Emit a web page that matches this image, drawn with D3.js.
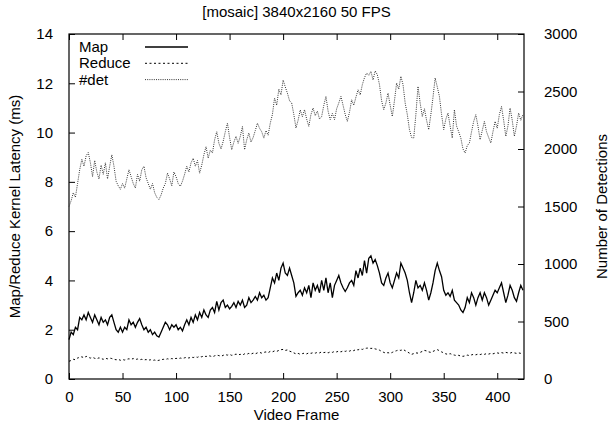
<!DOCTYPE html>
<html><head><meta charset="utf-8">
<script src="https://cdn.jsdelivr.net/npm/d3@7"></script>
<style>body{margin:0;background:#fff}svg{display:block}text{font-family:"Liberation Sans",Arial,sans-serif;fill:#000}</style>
</head><body><svg id="c" width="616" height="432"></svg>
<script>
const title = "[mosaic] 3840x2160 50 FPS";
const xLabel = "Video Frame";
const yLabel = "Map/Reduce Kernel Latency (ms)";
const y2Label = "Number of Detections";
const xTicks = [0,50,100,150,200,250,300,350,400];
const yTicks = [0,2,4,6,8,10,12,14];
const y2Ticks = [0,500,1000,1500,2000,2500,3000];
const seriesNames = ["Map","Reduce","#det"];
const frames = d3.range(0, 425, 2);
const mapMs = [
1.6,1.9,1.8,2.1,2.0,2.5,2.4,2.6,2.4,2.7,
2.5,2.3,2.6,2.4,2.2,2.5,2.3,2.4,2.2,2.5,
2.6,2.3,2.0,1.9,2.1,1.9,2.1,2.0,2.4,2.2,
2.3,2.1,2.3,2.45,2.2,2.0,2.1,1.9,2.0,1.8,
1.9,1.75,1.7,1.9,2.1,2.3,2.2,2.0,2.2,2.1,
2.2,2.0,2.1,1.95,2.2,2.4,2.2,2.5,2.3,2.6,
2.4,2.7,2.5,2.8,2.6,2.5,2.8,2.9,2.7,3.15,
2.8,3.1,3.2,2.9,3.0,2.85,2.95,3.1,2.9,3.15,
3.0,3.2,2.9,3.0,3.3,3.1,3.2,3.35,3.2,3.5,
3.3,3.4,3.2,3.3,3.7,4.1,3.9,4.3,4.0,4.5,
4.7,4.3,4.2,4.5,4.2,3.9,3.35,3.5,3.6,3.4,
3.7,3.5,3.8,3.3,3.9,3.6,3.8,3.5,4.0,3.6,
4.1,3.5,3.9,3.3,3.8,4.0,4.2,3.9,3.7,3.55,
3.7,3.9,4.0,3.8,4.4,4.1,4.5,4.2,4.8,4.3,
4.9,5.0,4.7,4.85,4.6,4.3,3.9,3.8,4.1,4.3,
3.9,3.7,4.0,4.3,4.1,4.7,4.5,4.3,4.0,3.5,
3.1,3.5,4.0,3.7,3.8,3.6,3.9,3.6,3.2,3.5,
3.9,4.4,4.7,4.4,4.15,3.6,3.4,3.5,3.35,3.6,
3.2,3.1,3.0,2.8,2.7,2.9,3.3,3.1,3.5,3.3,
3.0,3.3,3.5,3.2,3.5,3.3,3.0,3.2,3.4,3.6,
3.5,3.7,3.9,3.5,3.1,3.4,3.8,3.6,3.3,3.15,
3.5,3.8,3.6];
const reduceMs = [
0.72,0.75,0.8,0.78,0.85,0.88,0.9,0.86,0.92,0.88,
0.85,0.88,0.84,0.82,0.86,0.83,0.8,0.84,0.82,0.85,
0.83,0.8,0.78,0.8,0.76,0.79,0.77,0.8,0.82,0.8,
0.83,0.79,0.81,0.78,0.8,0.77,0.79,0.76,0.78,0.75,
0.77,0.74,0.76,0.78,0.8,0.79,0.82,0.8,0.83,0.81,
0.84,0.82,0.85,0.83,0.86,0.88,0.85,0.89,0.87,0.9,
0.88,0.92,0.9,0.94,0.91,0.95,0.93,0.9,0.94,0.97,
0.95,0.92,0.96,0.99,0.97,1.0,0.96,0.98,1.01,0.98,
1.0,0.97,1.02,1.0,1.04,1.01,1.05,1.02,1.06,1.08,
1.05,1.08,1.1,1.07,1.12,1.1,1.14,1.12,1.16,1.19,
1.2,1.16,1.18,1.13,1.1,1.06,1.02,1.04,1.0,1.03,
1.05,1.02,1.06,1.04,1.07,1.05,1.08,1.06,1.1,1.07,
1.09,1.06,1.1,1.08,1.12,1.1,1.13,1.1,1.14,1.12,
1.15,1.13,1.17,1.15,1.2,1.18,1.22,1.2,1.24,1.25,
1.26,1.24,1.25,1.22,1.2,1.17,1.12,1.08,1.05,1.07,
1.04,1.08,1.12,1.15,1.18,1.16,1.2,1.15,1.1,1.05,
1.0,1.03,1.06,1.05,1.08,1.12,1.16,1.14,1.1,1.08,
1.12,1.16,1.19,1.15,1.1,1.06,1.02,1.0,1.03,0.99,
0.97,0.95,0.96,0.93,0.92,0.94,0.97,0.95,0.98,1.0,
0.98,1.01,0.99,1.02,1.0,1.03,1.01,1.04,1.02,1.05,
1.06,1.04,1.07,1.05,1.08,1.06,1.05,1.08,1.06,1.04,
1.06,1.04,1.05];
const detections = [
1500,1550,1620,1580,1700,1820,1910,1850,1940,1970,
1880,1760,1900,1800,1740,1860,1780,1880,1740,1850,
1950,1850,1720,1680,1650,1700,1660,1740,1820,1760,
1700,1660,1780,1720,1820,1850,1750,1700,1650,1700,
1620,1580,1560,1600,1660,1700,1790,1740,1680,1800,
1760,1700,1675,1720,1780,1850,1800,1880,1920,1850,
1900,1790,1860,1950,2020,1920,1990,1965,2080,2150,
2050,2000,2066,2150,2225,2100,1994,2060,2110,2050,
2110,2196,1994,2080,2138,2060,2100,2160,2225,2180,
2150,2095,2160,2120,2225,2300,2443,2380,2520,2470,
2600,2540,2486,2420,2400,2300,2183,2250,2340,2280,
2342,2260,2197,2300,2356,2290,2330,2260,2283,2380,
2457,2330,2255,2310,2255,2350,2400,2457,2380,2300,
2240,2320,2428,2380,2450,2515,2470,2560,2620,2661,
2640,2675,2600,2680,2646,2560,2420,2342,2400,2486,
2380,2283,2420,2573,2520,2632,2560,2400,2300,2168,
2100,2095,2300,2544,2400,2283,2350,2250,2168,2300,
2450,2617,2540,2457,2300,2168,2260,2313,2200,2095,
2342,2200,2150,2095,2000,1965,2030,2052,2150,2240,
2298,2200,2081,2160,2240,2150,2100,2052,2150,2240,
2180,2300,2370,2250,2110,2200,2356,2250,2110,2200,
2313,2250,2300];

const svg = d3.select("#c");
const L=69, R=524, T=34, B=379;
const FS = 15;
const x = d3.scaleLinear().domain([0,425]).range([L,R]);
const y = d3.scaleLinear().domain([0,14]).range([B,T]);
const y2 = d3.scaleLinear().domain([0,3000]).range([B,T]);

const tl = 6;
const gx = svg.append("g").attr("transform",`translate(0,${B})`).call(d3.axisBottom(x).tickValues(xTicks).tickSizeInner(-tl).tickSizeOuter(0).tickPadding(12).tickFormat(d3.format("d")));
const gxt = svg.append("g").attr("transform",`translate(0,${T})`).call(d3.axisTop(x).tickValues(xTicks).tickSizeInner(-tl).tickSizeOuter(0).tickFormat(""));
const gy = svg.append("g").attr("transform",`translate(${L},0)`).call(d3.axisLeft(y).tickValues(yTicks).tickSizeInner(-tl).tickSizeOuter(0).tickPadding(16).tickFormat(d3.format("d")));
const gy2 = svg.append("g").attr("transform",`translate(${R},0)`).call(d3.axisRight(y2).tickValues(y2Ticks).tickSizeInner(-tl).tickSizeOuter(0).tickPadding(20).tickFormat(d3.format("d")));
[gx,gxt,gy,gy2].forEach(g=>{
  g.select(".domain").remove();
  g.selectAll("line").attr("stroke","#000").attr("stroke-width",1);
  g.selectAll("text").attr("font-size",FS).attr("font-family","Liberation Sans, Arial, sans-serif").attr("fill","#000");
});
svg.append("rect").attr("x",L).attr("y",T).attr("width",R-L).attr("height",B-T).attr("fill","none").attr("stroke","#000").attr("stroke-width",1.2);

const lineL = (vals)=>d3.line().x((d,i)=>x(frames[i])).y(d=>y(d))(vals);
const lineR = d3.line().x((d,i)=>x(frames[i])).y(d=>y2(d));
svg.append("path").attr("d",lineL(mapMs)).attr("fill","none").attr("stroke","#000").attr("stroke-width",1.3);
svg.append("path").attr("d",lineL(reduceMs)).attr("fill","none").attr("stroke","#000").attr("stroke-width",1).attr("stroke-dasharray","2,2.5");
svg.append("path").attr("d",lineR(detections)).attr("fill","none").attr("stroke","#333").attr("stroke-width",1).attr("stroke-dasharray","1,1.2");

const styles = [{w:1.3,da:null,c:"#000"},{w:1,da:"2,2.5",c:"#000"},{w:1,da:"1,1.2",c:"#333"}];
seriesNames.forEach((n,i)=>{
  const yy = 47 + i*16.3;
  svg.append("text").attr("x",79).attr("y",yy+5).attr("font-size",FS).text(n);
  const ln = svg.append("line").attr("x1",145).attr("x2",188).attr("y1",yy).attr("y2",yy).attr("stroke",styles[i].c).attr("stroke-width",styles[i].w);
  if(styles[i].da) ln.attr("stroke-dasharray",styles[i].da);
});

svg.append("text").attr("x",(L+R)/2).attr("y",17).attr("text-anchor","middle").attr("font-size",FS).text(title);
svg.append("text").attr("x",(L+R)/2).attr("y",420).attr("text-anchor","middle").attr("font-size",FS).text(xLabel);
svg.append("text").attr("transform",`translate(20,${(T+B)/2}) rotate(-90)`).attr("text-anchor","middle").attr("font-size",FS).text(yLabel);
svg.append("text").attr("transform",`translate(607,${(T+B)/2}) rotate(-90)`).attr("text-anchor","middle").attr("font-size",FS).text(y2Label);
</script></body></html>
